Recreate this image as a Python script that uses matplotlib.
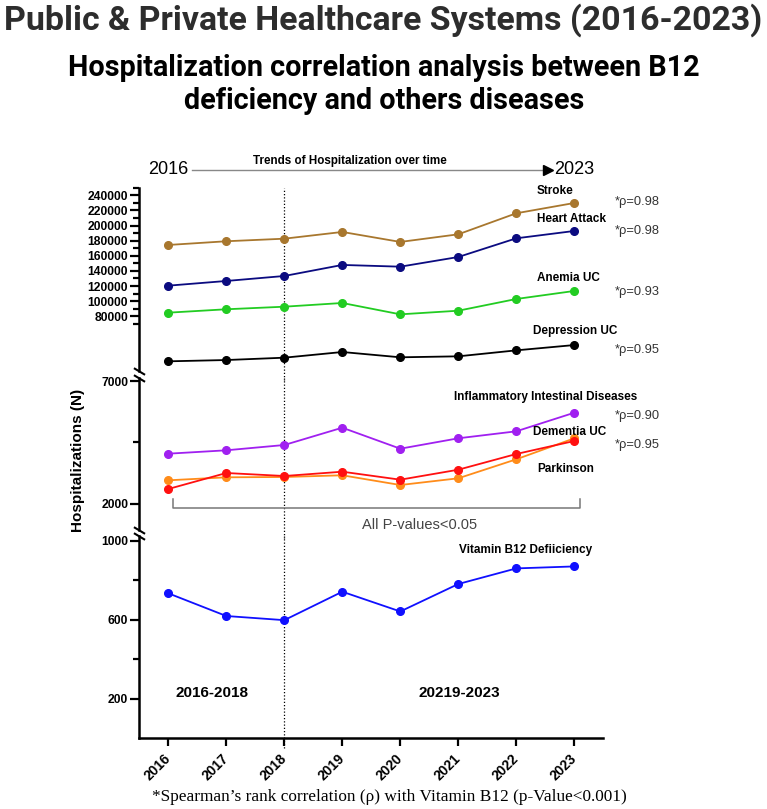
import matplotlib
matplotlib.use("Agg")
import matplotlib.pyplot as plt
import matplotlib.transforms as mtransforms

# ---------------- data ----------------
years = [2016, 2017, 2018, 2019, 2020, 2021, 2022, 2023]
stroke = [174300, 179200, 182600, 191500, 178300, 188400, 216200, 229800]
heart_attack = [120500, 126700, 133300, 147900, 145600, 158400, 183100, 192800]
anemia_uc = [84800, 89300, 92700, 97600, 82600, 87400, 102900, 113500]
depression_uc = [20500, 22200, 25300, 32800, 25800, 27100, 35000, 42000]
inflammatory_intestinal = [4045, 4183, 4398, 5102, 4248, 4671, 4955, 5711]
dementia_uc = [2610, 3260, 3138, 3313, 2988, 3394, 4033, 4561]
parkinson = [2963, 3085, 3098, 3167, 2772, 3045, 3817, 4671]
vitamin_b12 = [734, 619, 598, 742, 642, 781, 860, 870]

series_labels = ["Stroke", "Heart Attack", "Anemia UC", "Depression UC",
                 "Inflammatory Intestinal Diseases", "Dementia UC", "Parkinson",
                 "Vitamin B12 Defiiciency"]
rho_labels = ["*ρ=0.98", "*ρ=0.98", "*ρ=0.93", "*ρ=0.95", "*ρ=0.90", "*ρ=0.95"]

top_ticks = [80000, 100000, 120000, 140000, 160000, 180000, 200000, 220000, 240000]
mid_ticks = [2000, 7000]
bot_ticks = [200, 600, 1000]

# ---------------- layout ----------------
W, H = 767, 809
plt.rcParams['font.family'] = ['Liberation Sans', 'DejaVu Sans']
fig = plt.figure(figsize=(W / 100, H / 100), dpi=100)


def fx(px):
    return px / W


def fy(py):
    return 1 - py / H


L, R = 139.3, 603.3
ax_top = fig.add_axes([fx(L), fy(371), (R - L) / W, (371 - 187.7) / H])
ax_mid = fig.add_axes([fx(L), fy(530), (R - L) / W, (530 - 378) / H])
ax_bot = fig.add_axes([fx(L), fy(738.3), (R - L) / W, (738.3 - 536) / H])

for ax in (ax_top, ax_mid, ax_bot):
    ax.set_facecolor('none')
    ax.set_xlim(2015.5, 2023.5)
    for s in ('top', 'right'):
        ax.spines[s].set_visible(False)
    ax.spines['left'].set_linewidth(1.8)
    ax.tick_params(axis='y', which='major', direction='out', length=6.5, width=1.6,
                   pad=1.5, labelsize=8.5)
    ax.tick_params(axis='y', which='minor', direction='out', length=4, width=1.6)
    ax.axvline(2018, color='black', lw=0.9, ls=(0, (1, 1.6)), zorder=1,
               ymin=-0.05, ymax=1, clip_on=False)

for ax in (ax_top, ax_mid):
    ax.spines['bottom'].set_visible(False)
    ax.tick_params(axis='x', bottom=False, labelbottom=False)

ax_bot.spines['bottom'].set_linewidth(1.8)

# limits & ticks
ax_top.set_ylim(7700, 250000)
ax_top.set_yticks(top_ticks)
ax_top.set_yticks(list(range(70000, 250001, 20000)), minor=True)
ax_mid.set_ylim(943, 7122)
ax_mid.set_yticks(mid_ticks)
ax_mid.set_yticks([4500], minor=True)
ax_bot.set_ylim(0, 1024)
ax_bot.set_yticks(bot_ticks)
ax_bot.set_yticks([400, 800], minor=True)

ax_top.set_yticklabels([str(t) for t in top_ticks], fontweight='bold', fontsize=8.7)
ax_mid.set_yticklabels([str(t) for t in mid_ticks], fontweight='bold', fontsize=8.7)
ax_bot.set_yticklabels([str(t) for t in bot_ticks], fontweight='bold', fontsize=8.7)

ax_bot.set_xticks(years)
ax_bot.set_xticklabels([str(y) for y in years], rotation=45, ha='right', va='center',
                       rotation_mode='anchor', fontweight='bold', fontsize=10)
ax_bot.tick_params(axis='x', direction='out', length=6, width=1.6, pad=7)

# ---------------- series ----------------
kw = dict(marker='o', ms=5.5, lw=1.3, zorder=3, clip_on=False)
ax_top.plot(years, stroke, color='#A8772E', **kw)
ax_top.plot(years, heart_attack, color='#0B0B80', **kw)
ax_top.plot(years, anemia_uc, color='#22CC22', **kw)
ax_top.plot(years, depression_uc, color='black', **kw)
ax_mid.plot(years, inflammatory_intestinal, color='#A020F0', **kw)
ax_mid.plot(years, parkinson, color='#FF8C1A', **kw)
ax_mid.plot(years, dementia_uc, color='#FF1010', **kw)
ax_bot.plot(years, vitamin_b12, color='#1010FF', **kw)

# ---------------- break marks ----------------
bm = dict(marker=[(-1, 0.6), (1, -0.6)], ms=8, mew=1.5, color='black',
          clip_on=False, zorder=5, ls='none')
ax_top.plot([0], [0], transform=ax_top.transAxes, **bm)
ax_mid.plot([0], [1], transform=ax_mid.transAxes, **bm)
ax_mid.plot([0], [0], transform=ax_mid.transAxes, **bm)
ax_bot.plot([0], [1], transform=ax_bot.transAxes, **bm)

# ---------------- bracket ----------------
ax_mid.plot([2016.08, 2016.08, 2023.09, 2023.09], [2203, 1837, 1837, 2203],
            color='#777777', lw=1.1, clip_on=False, zorder=2)

# ---------------- header arrow ----------------
btr = mtransforms.blended_transform_factory(ax_top.transData, fig.transFigure)
ax_top.plot([2016.40, 2022.55], [fy(170), fy(170)], transform=btr, color='#888888',
            lw=1.0, clip_on=False)
ax_top.plot([2022.55], [fy(170)], transform=btr, marker='>', ms=7, color='black',
            clip_on=False, ls='none')
ax_top.text(2016, fy(170), '2016', transform=btr, ha='center', va='center', fontsize=13)
ax_top.text(2023, fy(170), '2023', transform=btr, ha='center', va='center', fontsize=13)
fig.text(fx(350), fy(161), 'Trends of Hospitalization over time', ha='center',
         va='center', fontsize=8.4, fontweight='bold')

# ---------------- titles ----------------
renderer = fig.canvas.get_renderer()


def fit_text(x, y, s, width_px, **kwargs):
    t = fig.text(x, y, s, **kwargs)
    w = t.get_window_extent(renderer).width
    t.set_fontsize(t.get_fontsize() * width_px / w)
    return t


fit_text(fx(383.5), fy(20), 'Public & Private Healthcare Systems (2016-2023)', 758,
         ha='center', va='center', fontweight='bold', color='#2d2d2d', fontsize=20,
         family=['Roboto', 'Liberation Sans'])
t1 = fit_text(fx(384), fy(68), 'Hospitalization correlation analysis between B12', 632,
              ha='center', va='center', fontweight='bold', color='black', fontsize=16,
              family=['Roboto', 'Liberation Sans'])
fig.text(fx(384), fy(101), 'deficiency and others diseases', ha='center', va='center',
         fontweight='bold', color='black', fontsize=t1.get_fontsize(),
         family=['Roboto', 'Liberation Sans'])

# ---------------- series labels ----------------
label_pos = [(537, 191), (537, 219), (537, 277.7), (533, 331), (454, 396.7),
             (533, 431.7), (537, 469.3), (459, 550)]
for s, (x, y) in zip(series_labels, label_pos):
    fig.text(fx(x), fy(y), s, ha='left', va='center', fontsize=8.5, fontweight='bold')

rho_pos = [201.7, 231, 292.3, 350, 415.7, 445]
for s, y in zip(rho_labels, rho_pos):
    fig.text(fx(615), fy(y), s, ha='left', va='center', fontsize=9.3, color='#333333')

fig.text(fx(420), fy(525), 'All P-values<0.05', ha='center', va='center',
         fontsize=10.5, color='#444444')
fig.text(fx(211.5), fy(693.3), '2016-2018', ha='center', va='center', fontsize=11,
         fontweight='bold')
fig.text(fx(459), fy(693.3), '20219-2023', ha='center', va='center', fontsize=11,
         fontweight='bold')
fig.text(fx(78), fy(460), 'Hospitalizations (N)', ha='center', va='center',
         rotation=90, fontsize=11, fontweight='bold')
fit_text(fx(389), fy(797),
         '*Spearman\u2019s rank correlation (\u03c1) with Vitamin B12 (p-Value<0.001)', 472,
         ha='center', va='center', fontsize=10.5,
         family=['Liberation Serif', 'DejaVu Serif'])

fig.savefig('out.png', dpi=100)
